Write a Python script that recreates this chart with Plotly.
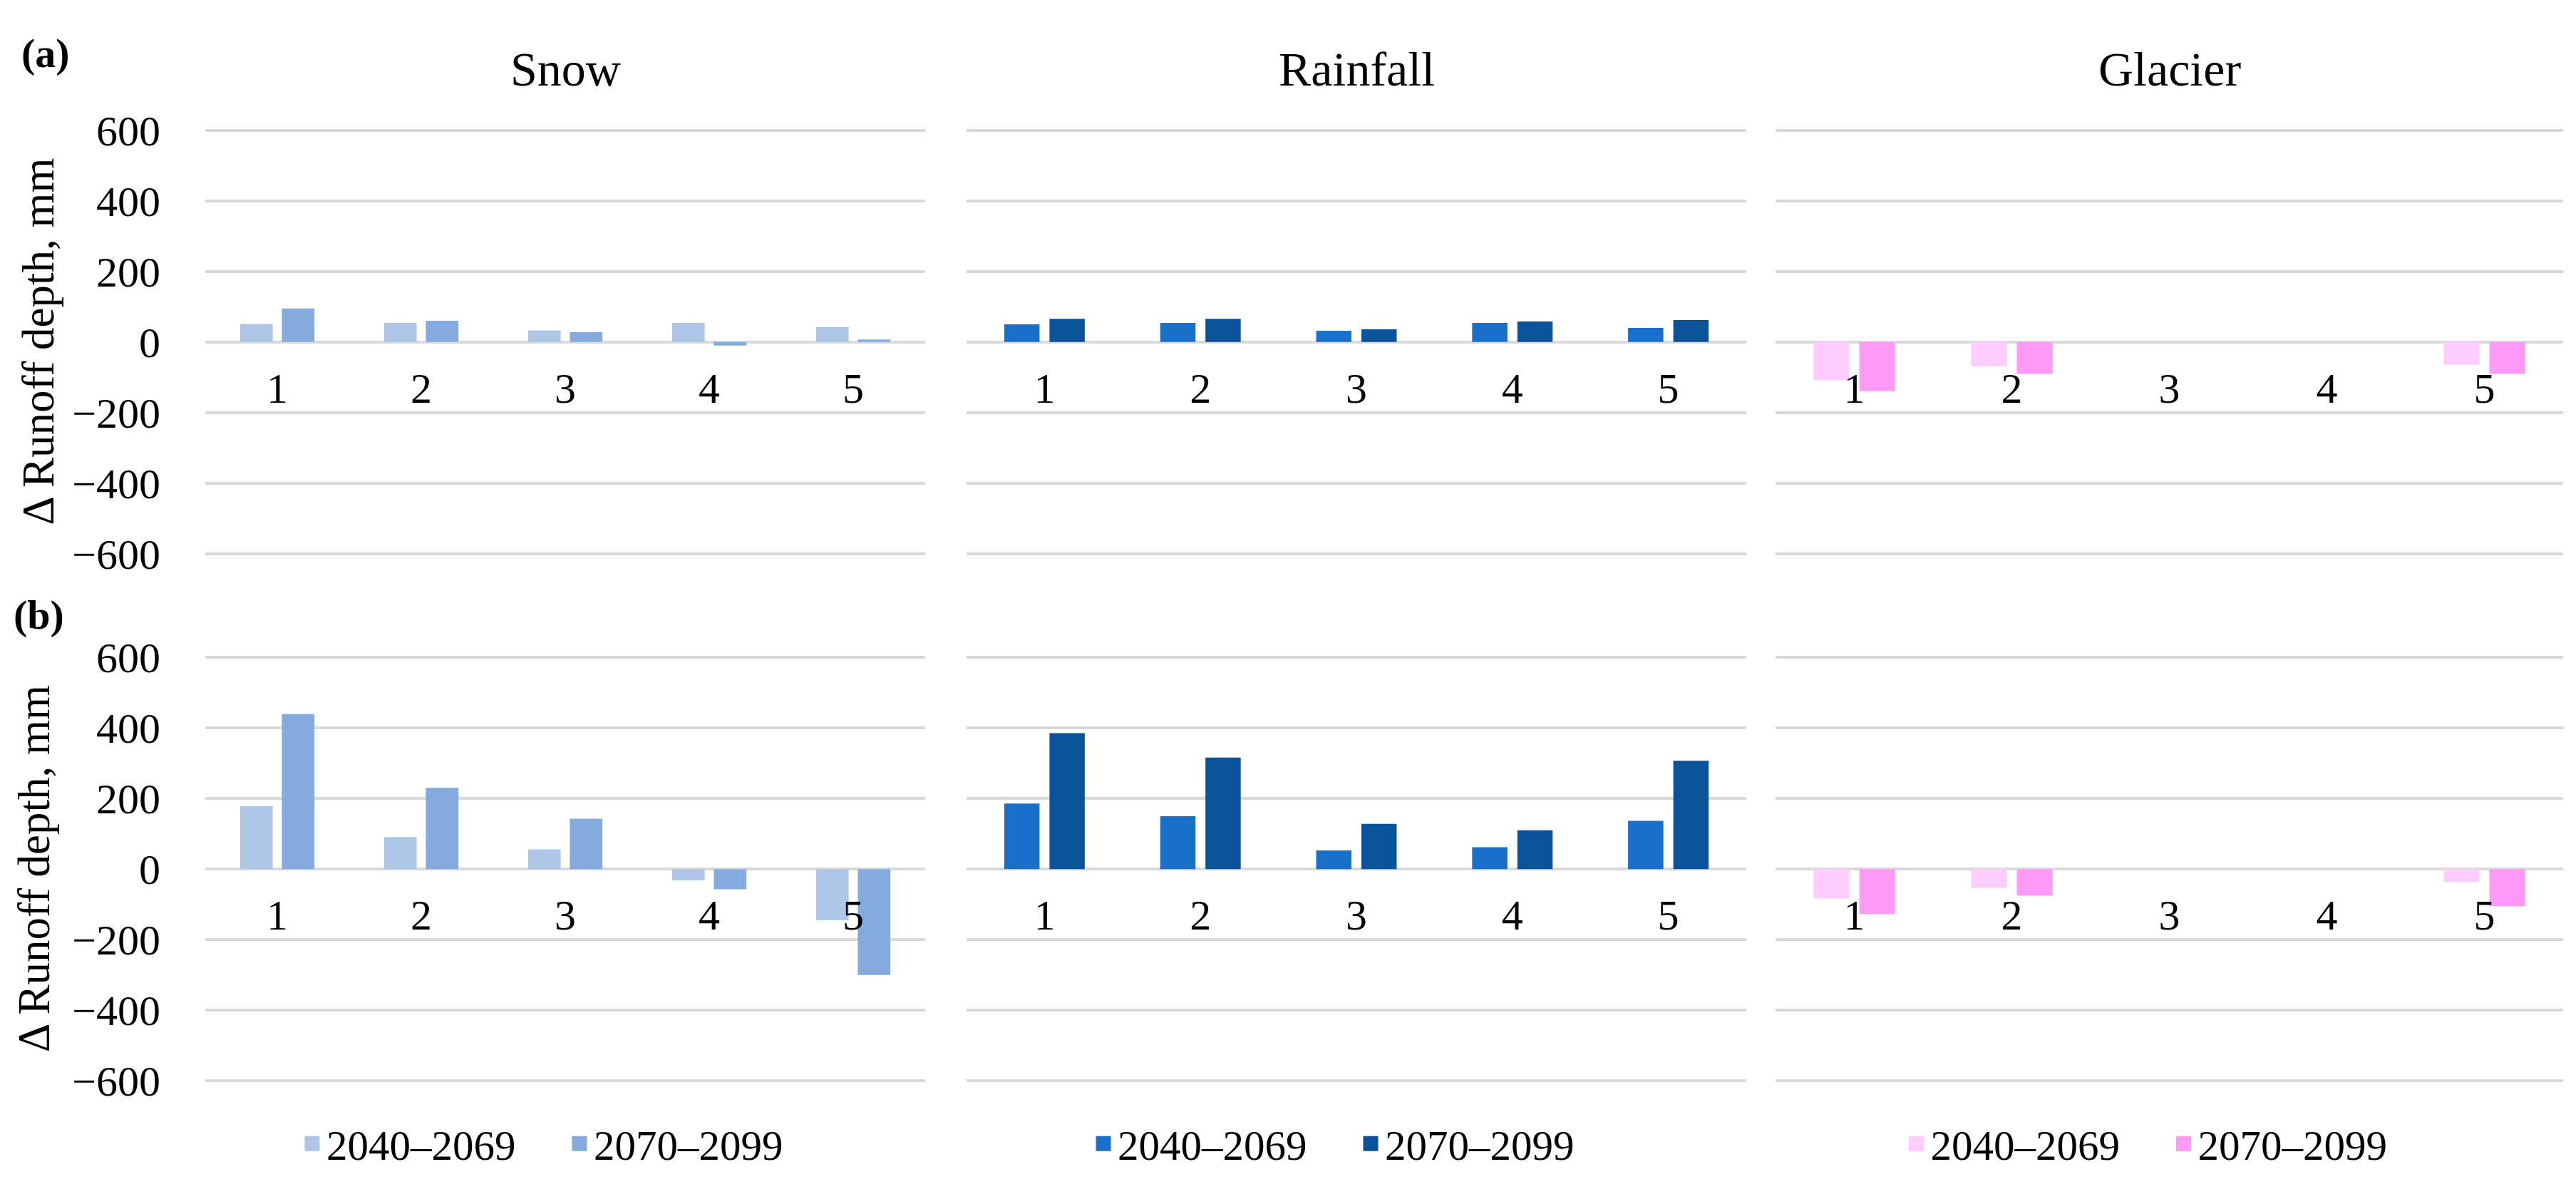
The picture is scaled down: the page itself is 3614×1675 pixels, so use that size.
import plotly.graph_objects as go

W, H = 3614, 1675

categories = ["1", "2", "3", "4", "5"]
period_labels = ["2040–2069", "2070–2099"]
panel_titles = ["Snow", "Rainfall", "Glacier"]
y_tick_vals = [-600, -400, -200, 0, 200, 400, 600]
y_tick_text = ["−600", "−400", "−200", "0", "200", "400", "600"]

# (a) row
snow_a_early = [51, 54, 33, 54, 42]
snow_a_late = [95, 60, 28, -10, 7]
rain_a_early = [50, 54, 32, 54, 40]
rain_a_late = [66, 66, 36, 58, 62]
glacier_a_early = [-108, -68, None, None, -64]
glacier_a_late = [-139, -90, None, None, -90]

# (b) row
snow_b_early = [178, 91, 56, -32, -145]
snow_b_late = [439, 230, 143, -57, -300]
rain_b_early = [186, 150, 53, 62, 137]
rain_b_late = [385, 316, 128, 110, 307]
glacier_b_early = [-83, -53, None, None, -36]
glacier_b_late = [-127, -75, None, None, -105]

snow_colors = ["#adc6e8", "#84aadf"]
rain_colors = ["#1a6fcb", "#0a5299"]
glacier_colors = ["#ffccff", "#ff99f7"]

FONT = "Liberation Serif, Times New Roman, serif"

# panel geometry in pixels
col_px = [(288, 1298), (1356, 2450), (2491, 3596)]
row_px = [(161, 776), (926, 1541)]   # pixel rows of the 600 and -600 gridlines
Y_LIM = 610                          # a little beyond 600 so the edge gridlines are drawn


def xdom(c):
    return [col_px[c][0] / W, col_px[c][1] / W]


def ydom(r):
    top, bot = row_px[r]
    pad = (bot - top) / 1200 * (Y_LIM - 600)
    return [(H - bot - pad) / H, (H - top + pad) / H]


rows = [
    [(snow_a_early, snow_a_late), (rain_a_early, rain_a_late), (glacier_a_early, glacier_a_late)],
    [(snow_b_early, snow_b_late), (rain_b_early, rain_b_late), (glacier_b_early, glacier_b_late)],
]
palettes = [snow_colors, rain_colors, glacier_colors]

fig = go.Figure()
layout = {}

for r in range(2):
    for c in range(3):
        n = r * 3 + c + 1
        sfx = "" if n == 1 else str(n)
        early, late = rows[r][c]
        for vals, color, name in zip((early, late), palettes[c], period_labels):
            fig.add_trace(go.Bar(
                x=categories, y=vals, name=name,
                marker=dict(color=color, line=dict(width=0)),
                xaxis="x" + sfx, yaxis="y" + sfx, showlegend=False,
            ))
        yd = ydom(r)
        zero_pos = (yd[0] + yd[1]) / 2
        layout["xaxis" + sfx] = dict(
            domain=xdom(c), type="category", anchor="free", position=zero_pos,
            showgrid=False, showline=False, zeroline=False,
            ticks="outside", ticklen=12, tickcolor="rgba(0,0,0,0)",
            tickfont=dict(size=60, family=FONT, color="black"),
            fixedrange=True,
        )
        layout["yaxis" + sfx] = dict(
            domain=yd, anchor="x" + sfx, range=[-Y_LIM, Y_LIM],
            tickvals=y_tick_vals, ticktext=y_tick_text,
            showgrid=True, gridcolor="#d9d9d9", gridwidth=4,
            zeroline=False, showline=False,
            showticklabels=(c == 0),
            ticks="outside" if c == 0 else "", ticklen=50, tickcolor="rgba(0,0,0,0)",
            tickfont=dict(size=60, family=FONT, color="black"),
            fixedrange=True,
        )

# legends (dummy square markers so the key is larger than the default bar icon)
legend_names = ["legend", "legend2", "legend3"]
for c in range(3):
    for color, name in zip(palettes[c], period_labels):
        fig.add_trace(go.Scatter(
            x=[None], y=[None], mode="markers", name=name,
            marker=dict(symbol="square", size=16, color=color, line=dict(color=color, width=5)),
            xaxis="x" + ("" if c == 0 else str(c + 1)), yaxis="y" + ("" if c == 0 else str(c + 1)),
            legend=legend_names[c], showlegend=True,
        ))
    cx = (col_px[c][0] + col_px[c][1]) / 2 / W
    layout[legend_names[c]] = dict(
        orientation="h", x=cx, xanchor="center", y=(H - 1632) / H, yanchor="middle",
        font=dict(size=59, family=FONT, color="black"), bgcolor="rgba(0,0,0,0)",
        itemwidth=30, tracegroupgap=0, entrywidth=330,
    )

annotations = []
for c, t in enumerate(panel_titles):
    cx = (col_px[c][0] + col_px[c][1]) / 2 / W
    annotations.append(dict(
        text=t, x=cx, y=1 - 72 / H, xref="paper", yref="paper",
        xanchor="center", yanchor="middle", showarrow=False,
        font=dict(size=68, family=FONT, color="black"),
    ))
for r, lab in enumerate(["<b>(a)</b>", "<b>(b)</b>"]):
    ypix = [49, 864][r]
    annotations.append(dict(
        text=lab, x=[64, 54][r] / W, y=1 - ypix / H, xref="paper", yref="paper",
        xanchor="center", yanchor="middle", showarrow=False,
        font=dict(size=58, family=FONT, color="black"),
    ))
    top, bot = row_px[r]
    annotations.append(dict(
        text="Δ Runoff depth, mm", x=[54, 48][r] / W, y=1 - (top + bot) / 2 / H,
        xref="paper", yref="paper", xanchor="center", yanchor="middle",
        textangle=-90, showarrow=False,
        font=dict(size=63, family=FONT, color="black"),
    ))

fig.update_layout(
    width=W, height=H,
    margin=dict(l=0, r=0, t=0, b=0),
    paper_bgcolor="white", plot_bgcolor="white",
    font=dict(family=FONT, color="black"),
    barmode="group", bargap=0.42, bargroupgap=0.22,
    annotations=annotations,
    **layout,
)

# drop the default body margin so the figure fills the window exactly
fig.write_html(
    "out.html",
    config={"displayModeBar": False},
    post_script="document.body.style.margin='0';",
)
